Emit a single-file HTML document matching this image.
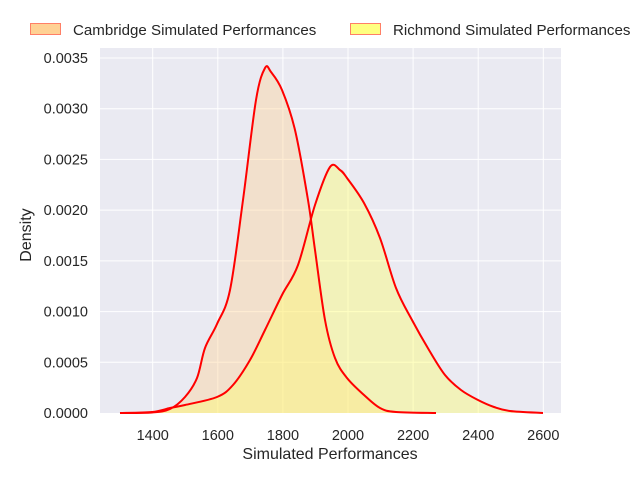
<!DOCTYPE html>
<html><head><meta charset="utf-8"><style>
body{margin:0;background:#fff;}
text{font-family:"Liberation Sans",sans-serif;fill:#262626;}
</style></head><body>
<svg width="640" height="480" viewBox="0 0 640 480" xmlns="http://www.w3.org/2000/svg">
<rect x="100" y="48" width="461" height="365" fill="#eaeaf2"/>
<g stroke="#fff" stroke-width="1">
<line x1="152.7" y1="48" x2="152.7" y2="413"/><line x1="217.8" y1="48" x2="217.8" y2="413"/>
<line x1="282.9" y1="48" x2="282.9" y2="413"/><line x1="348" y1="48" x2="348" y2="413"/>
<line x1="413.1" y1="48" x2="413.1" y2="413"/><line x1="478.2" y1="48" x2="478.2" y2="413"/>
<line x1="543.3" y1="48" x2="543.3" y2="413"/>
<line x1="100" y1="58" x2="561" y2="58"/><line x1="100" y1="108.7" x2="561" y2="108.7"/>
<line x1="100" y1="159.4" x2="561" y2="159.4"/><line x1="100" y1="210.1" x2="561" y2="210.1"/>
<line x1="100" y1="260.9" x2="561" y2="260.9"/><line x1="100" y1="311.6" x2="561" y2="311.6"/>
<line x1="100" y1="362.3" x2="561" y2="362.3"/>
</g>
<path id="fc" fill="#ffd194" fill-opacity="0.4"/>
<path id="fr" fill="#ffff66" fill-opacity="0.4"/>
<path id="lc" fill="none" stroke="#ff0000" stroke-width="2"/>
<path id="lr" fill="none" stroke="#ff0000" stroke-width="2"/>
<g font-size="14.5" text-anchor="middle">
<text x="152.7" y="440">1400</text><text x="217.8" y="440">1600</text><text x="282.9" y="440">1800</text>
<text x="348" y="440">2000</text><text x="413.1" y="440">2200</text><text x="478.2" y="440">2400</text>
<text x="543.3" y="440">2600</text>
<text x="330" y="459" font-size="16">Simulated Performances</text>
</g>
<g font-size="14.5" text-anchor="end">
<text x="88" y="63">0.0035</text><text x="88" y="113.7">0.0030</text><text x="88" y="164.4">0.0025</text>
<text x="88" y="215.1">0.0020</text><text x="88" y="265.9">0.0015</text><text x="88" y="316.6">0.0010</text>
<text x="88" y="367.3">0.0005</text><text x="88" y="418">0.0000</text>
</g>
<text x="31" y="235" font-size="16" text-anchor="middle" transform="rotate(-90 31 235)">Density</text>
<rect x="30.5" y="23.5" width="30" height="11" fill="#ffd194" stroke="#ff7f66"/>
<text x="73" y="35" font-size="15.1">Cambridge Simulated Performances</text>
<rect x="350.5" y="23.5" width="30" height="11" fill="#ffff80" stroke="#ff7f66"/>
<text x="393" y="35" font-size="15.1">Richmond Simulated Performances</text>
</svg>
<script>
function sm(p){var d="M"+p[0][0]+","+p[0][1];for(var i=0;i<p.length-1;i++){var a=p[i-1]||p[i],b=p[i],c=p[i+1],e=p[i+2]||c;
d+=" C"+(b[0]+(c[0]-a[0])/6)+","+(b[1]+(c[1]-a[1])/6)+" "+(c[0]-(e[0]-b[0])/6)+","+(c[1]-(e[1]-b[1])/6)+" "+c[0]+","+c[1];}return d;}
var C=[[120,413],[152,412.5],[170,409],[185,397],[197,378],[205,348],[217,324],[230,290],[243,200],[256,100],[265,68],[271,72],[282,90],[295,130],[308,200],[315,250],[325,320],[335,358],[347,378],[364,395],[380,408],[396,412],[436,413]];
var R=[[120,413],[152,412],[170,408],[185,405],[217,397],[233,385],[250,360],[265,330],[282,295],[298,265],[315,205],[330,167],[340,170],[347,178],[364,203],[380,238],[396,288],[412,320],[429,350],[445,375],[461,390],[478,400],[494,407],[510,411],[543,413]];
var c=sm(C),r=sm(R);
document.getElementById("lc").setAttribute("d",c);document.getElementById("lr").setAttribute("d",r);
document.getElementById("fc").setAttribute("d",c+" Z");document.getElementById("fr").setAttribute("d",r+" Z");
</script>
</body></html>
